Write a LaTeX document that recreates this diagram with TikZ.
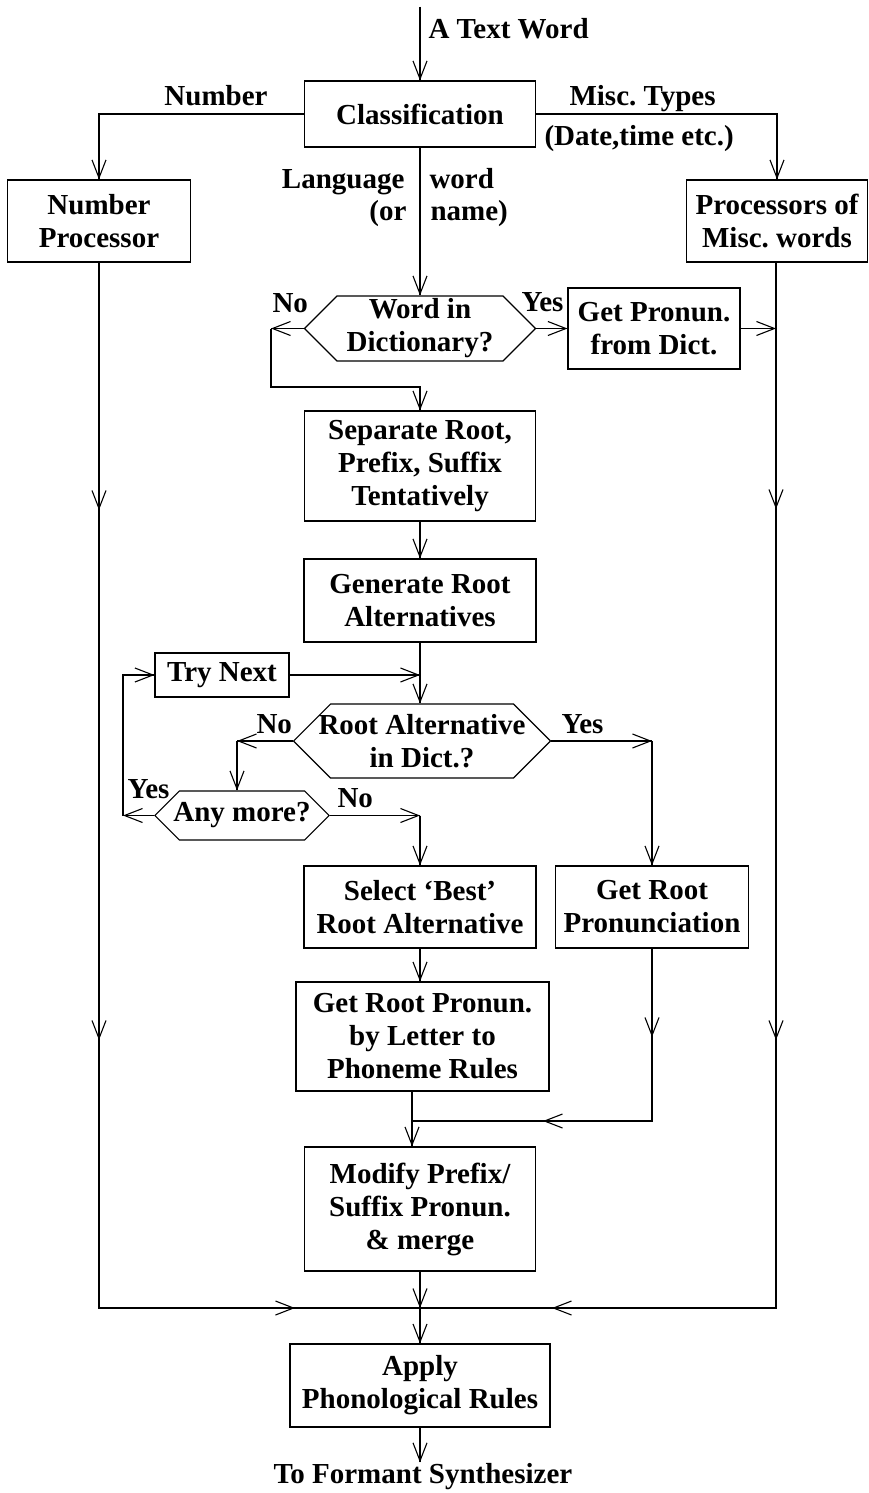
\documentclass[tikz,border=0pt]{standalone}
\usepackage{fontspec}
\setmainfont{Liberation Serif}
\usepackage{tikz}
\usetikzlibrary{positioning, arrows.meta, calc, shapes.symbols}
\tikzset{every node/.append style={execute at begin node={\hyphenpenalty=10000\exhyphenpenalty=10000\relax}}}
\usepackage{xcolor}
\frenchspacing

\begin{document}
\begin{tikzpicture}[x=1pt, y=-1pt, font=\fontsize{29}{33}\selectfont\bfseries,
  >={Straight Barb[length=18pt,width=14pt]}, line width=1.1pt,
  arr/.style={->, preaction={draw, arrows=-}},
  box/.style={draw, align=center, inner sep=0pt},
  hex/.style={draw, align=center, inner sep=0pt, shape=signal,
              signal to=east and west, signal pointer angle=90},
  lbl/.style={inner sep=0pt},
]
  \useasboundingbox (0,0) rectangle (869,1493);

  % boxes of the main column
  \node[box, minimum width=231, minimum height=66]  (cls)     at (420,114)    {Classification};
  \node[box, minimum width=183, minimum height=82]  (numproc) at (99,221)     {Number\\Processor};
  \node[box, minimum width=181, minimum height=82]  (miscproc) at (777,221)   {Processors of\\Misc. words};
  \node[hex, minimum width=231, minimum height=65]  (dict)    at (420,328.5)  {Word in\\Dictionary?};
  \node[box, minimum width=172, minimum height=81]  (getdict) at (654,328.5)  {Get Pronun.\\from Dict.};
  \node[box, minimum width=231, minimum height=110] (sep)     at (420,466)    {Separate Root,\\Prefix, Suffix\\Tentatively};
  \node[box, minimum width=232, minimum height=83]  (gen)     at (420,600.5)  {Generate Root\\Alternatives};
  \node[box, minimum width=134, minimum height=44]  (trynext) at (222,675)    {Try Next};
  \node[hex, inner xsep=-12pt, minimum height=74]   (altdict) at (422,741)    {Root Alternative\\in Dict.?};
  \node[hex, inner xsep=-6pt, minimum height=49]    (anymore) at (242,815.5)  {Any more?};
  \node[box, minimum width=232, minimum height=82]  (select)  at (420,907)    {Select `Best'\\Root Alternative};
  \node[box, minimum width=193, minimum height=82]  (getroot) at (652,907)    {Get Root\\Pronunciation};
  \node[box, minimum width=253, minimum height=109] (ltp)     at (422.5,1036.5) {Get Root Pronun.\\by Letter to\\Phoneme Rules};
  \node[box, minimum width=231, minimum height=124] (modify)  at (420,1209)   {Modify Prefix/\\Suffix Pronun.\\\& merge};
  \node[box, minimum width=260, minimum height=83]  (apply)   at (420,1385.5) {Apply\\Phonological Rules};
  \node[lbl, anchor=base] (out) at (423,1483) {To Formant Synthesizer};

  % labels
  \node[lbl, anchor=base west] (intxt) at (428,39)   {A Text Word};
  \node[lbl, anchor=base]      (lnum)  at (216,106)  {Number};
  \node[lbl, anchor=base west] (lmisc) at (569,106)  {Misc. Types};
  \node[lbl, anchor=base west] (ldate) at (544,146)  {(Date,time etc.)};
  \node[lbl, anchor=base east] (llang) at (405,188)  {Language};
  \node[lbl, anchor=base east] (lor)   at (407,220)  {(or};
  \node[lbl, anchor=base west] (lword) at (429,188)  {word};
  \node[lbl, anchor=base west] (lname) at (430,220)  {name)};
  \node[lbl, anchor=base west] (dno)   at (272,312)  {No};
  \node[lbl, anchor=base west] (dyes)  at (521,311)  {Yes};
  \node[lbl, anchor=base west] (ano)   at (256,733)  {No};
  \node[lbl, anchor=base west] (ayes)  at (561,733)  {Yes};
  \node[lbl, anchor=base west] (myes)  at (127,798)  {Yes};
  \node[lbl, anchor=base west] (mno)   at (337,807)  {No};

  % bends and arrow points
  \coordinate (top) at (420,7);
  \coordinate (d1) at (271,328.5);
  \coordinate (d2) at (420,387);
  \coordinate (a1) at (237,741);
  \coordinate (a2) at (652,741);
  \coordinate (y1) at (123,815.5);
  \coordinate (n1) at (420,815.5);
  \coordinate (g1) at (652,1037);
  \coordinate (m2) at (543,1121);
  \coordinate (m1) at (412,1121);
  \coordinate (l1) at (99,510);
  \coordinate (l2) at (99,1040);
  \coordinate (l3) at (295,1308);
  \coordinate (r0) at (776,328.5);
  \coordinate (r1) at (776,509);
  \coordinate (r2) at (776,1040);
  \coordinate (r3) at (552,1308);
  \coordinate (j)  at (420,1308);

  % connectors
  \draw[arr] (top) -- (cls.north);
  \draw[arr] (cls.west) -| (numproc.north);
  \draw[arr] (cls.east) -| (miscproc.north);
  \draw[arr] (cls.south) -- (dict.north);
  \draw[arr] (dict.east) -- (getdict.west);
  \draw[arr] (getdict.east) -- (r0);
  \draw[arr] (dict.west) -- (d1);
  \draw[arr] (d1) |- (d2) -- (sep.north);
  \draw[arr] (sep.south) -- (gen.north);
  \draw[arr] (gen.south) -- (gen.south |- altdict.north);
  \draw[arr] (trynext.east) -- (trynext.east -| gen.south);
  \draw[arr] (altdict.west) -- (a1);
  \draw[arr] (a1) -- (a1 |- anymore.north);
  \draw[arr] (altdict.east) -- (a2);
  \draw[arr] (a2) -- (getroot.north);
  \draw[arr] (anymore.west) -- (y1);
  \draw[arr] (y1) |- (trynext.west);
  \draw[arr] (anymore.east) -- (n1);
  \draw[arr] (n1) -- (select.north);
  \draw[arr] (select.south) -- (select.south |- ltp.north);
  \draw[arr] (getroot.south) -- (g1);
  \draw[arr] (g1) |- (m2);
  \draw (m2) -- (m1);
  \draw (ltp.south -| m1) -- (m1);
  \draw[arr] (m1) -- (modify.north -| m1);
  \draw[arr] (numproc.south) -- (l1);
  \draw[arr] (l1) -- (l2);
  \draw[arr] (l2) |- (l3);
  \draw (l3) -- (j);
  \draw[arr] (miscproc.south -| r1) -- (r1);
  \draw[arr] (r1) -- (r2);
  \draw[arr] (r2) |- (r3);
  \draw (r3) -- (j);
  \draw[arr] (modify.south) -- (j);
  \draw[arr] (j) -- (apply.north);
  \draw[arr] (apply.south) -- (apply.south |- out.north);
\end{tikzpicture}
\end{document}
